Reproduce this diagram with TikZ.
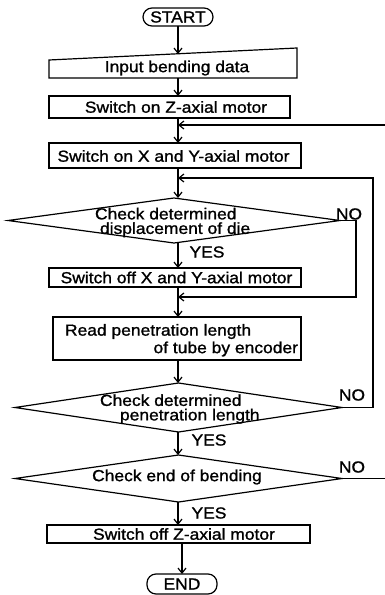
\documentclass[tikz,border=0pt]{standalone}
\usepackage{fontspec}
\setmainfont[FakeStretch=1.09, FakeBold=1.2]{Liberation Sans}
\usetikzlibrary{arrows.meta,shapes.geometric,calc}
\begin{document}
\begin{tikzpicture}[x=1pt,y=-1pt,
  every node/.style={font=\fontsize{16}{13.5}\selectfont, inner sep=0pt, outer sep=0pt},
  line/.style={line width=1.2pt},
  arr/.style={line, -{Straight Barb[length=5pt,width=8pt]}},
  proc/.style={draw, line width=1.2pt, rectangle},
  term/.style={draw, line width=1.2pt, rectangle, rounded corners=9pt},
  dec/.style={draw, line width=1.2pt, diamond}]
\fill[white] (0,0) rectangle (384,595);
\useasboundingbox (0,0) rectangle (384,595);
\coordinate (ax) at (178,0);

% terminals
\node[term, minimum width=70pt, minimum height=18pt] (start) at (178,17) {START};
\node[term, minimum width=70pt, minimum height=20pt] (end) at (182,584) {END};

% manual input
\node[minimum width=248pt, minimum height=30pt] (inp) at (173,63) {};
\draw[line] (inp.south west) -- (inp.south east) -- (inp.north east) -- ($(inp.north west)+(0,12)$) -- cycle;
\node (inptxt) at (177,68) {Input bending data};
\coordinate (inptop) at (178,54);

% process boxes
\node[proc, minimum width=241pt, minimum height=22pt] (zon) at (169.5,107) {};
\node (zontxt) at (176,107) {Switch on Z-axial motor};
\node[proc, minimum width=252pt, minimum height=25pt] (xyon) at (175,155.5) {};
\node (xyontxt) at (173.5,156) {Switch on X and Y-axial motor};
\node[proc, minimum width=252pt, minimum height=19pt] (xyoff) at (175,277.5) {};
\node (xyofftxt) at (176.5,277.5) {Switch off X and Y-axial motor};
\node[proc, minimum width=248pt, minimum height=43pt] (read) at (177,338.5) {};
\node[anchor=west] (read1) at (65,331.5) {Read penetration length};
\node[anchor=east] (read2) at (298,349) {of tube by encoder};
\node[proc, minimum width=263pt, minimum height=18pt] (zoff) at (178.5,534) {};
\node (zofftxt) at (184,534) {Switch off Z-axial motor};

% decisions
\node[dec, minimum width=332pt, minimum height=45pt] (d1) at (174,220.5) {};
\node[anchor=west, align=left, font=\fontsize{16}{14.5}\selectfont] (d1txt) at (95,222.5) {Check determined\\\hspace*{5pt}displacement of die};
\node[dec, minimum width=327pt, minimum height=49pt] (d2) at (178.5,407.5) {};
\node[anchor=west, align=left, font=\fontsize{16}{14.5}\selectfont] (d2txt) at (100,409) {Check determined\\\hspace*{20pt}penetration length};
\node[dec, minimum width=327pt, minimum height=47pt] (d3) at (178.5,478.5) {};
\node (d3txt) at (177,477) {Check end of bending};

% labels
\node (no1) at (349,214) {NO};
\node (no2) at (352,395) {NO};
\node (no3) at (352,467) {NO};
\node (yes1) at (207,252) {YES};
\node (yes2) at (209,440) {YES};
\node (yes3) at (209,513) {YES};

% merge points
\coordinate (m3) at (178,125);
\coordinate (m2) at (178,178);
\coordinate (m1) at (178,297);

% main flow
\draw[arr] (start.south -| ax) -- (inptop);
\draw[arr] (inp.south -| ax) -- (zon.north -| ax);
\draw[arr] (zon.south -| ax) -- (xyon.north -| ax);
\draw[arr] (xyon.south -| ax) -- (d1.north -| ax);
\draw[arr] (d1.south -| ax) -- (xyoff.north -| ax);
\draw[arr] (xyoff.south -| ax) -- (read.north -| ax);
\draw[arr] (read.south -| ax) -- (d2.north -| ax);
\draw[arr] (d2.south -| ax) -- (d3.north -| ax);
\draw[arr] (d3.south -| ax) -- (zoff.north -| ax);
\draw[arr] (zoff.south -| end) -- (end.north);

% loops
\draw[arr] (d1.east) -- ++(16,0) |- (m1);
\draw[arr] (d2.east) -- ++(31,0) |- (m2);
\draw[arr] (d3.east) -- ++(44,0) |- (m3);
\end{tikzpicture}
\end{document}
